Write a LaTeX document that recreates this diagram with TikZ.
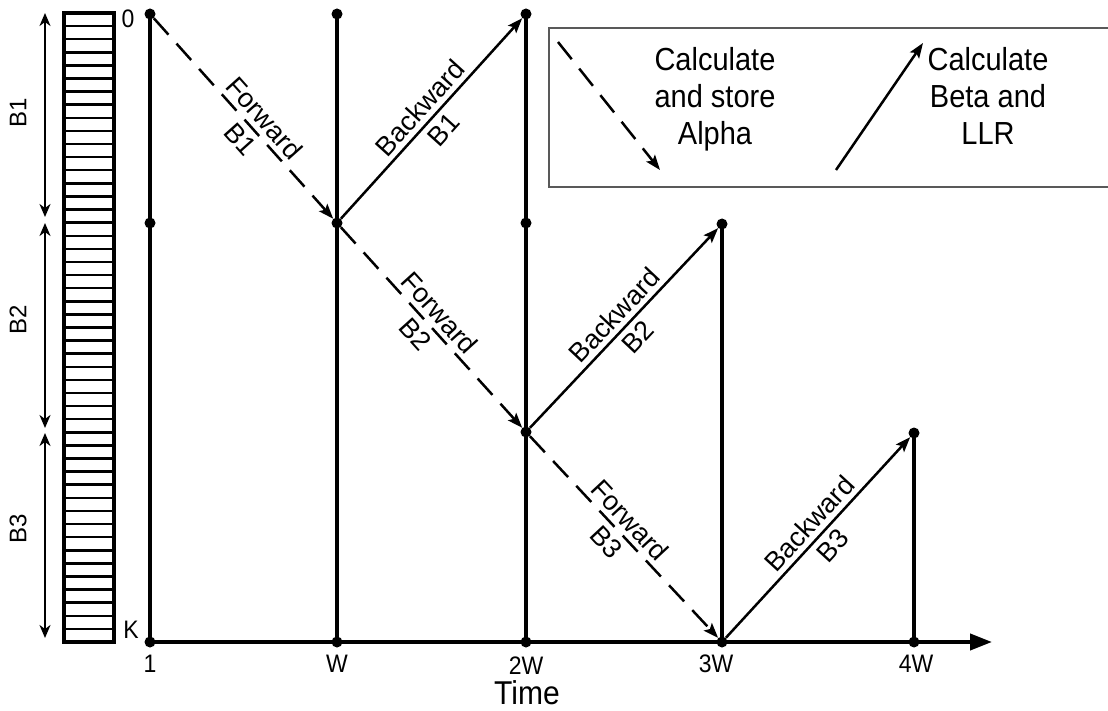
\documentclass[tikz,border=0pt]{standalone}
\usepackage{fontspec}
\usepackage{graphicx}
\setmainfont{Liberation Sans}
\usetikzlibrary{arrows.meta}
\newcommand{\vstretch}[1]{\scalebox{1}[1.1]{#1}}
\tikzset{
  dot/.style={circle,fill=black,inner sep=0pt,minimum size=11pt},
  vline/.style={line width=4pt},
  fwd/.style={line width=2.5pt,dash pattern=on 22pt off 12pt,-{Stealth[length=15pt,width=11pt,inset=3pt]}},
  bwd/.style={line width=2.5pt,-{Stealth[length=15pt,width=11pt,inset=3pt]}},
  steplbl/.style={sloped,align=center,font=\fontsize{27}{32}\selectfont,inner sep=0pt},
  ticklbl/.style={font=\fontsize{23}{27}\selectfont,inner sep=0pt},
  blocklbl/.style={font=\fontsize{24}{28}\selectfont,inner sep=0pt,rotate=90},
  legtext/.style={font=\fontsize{29}{34}\selectfont,inner sep=0pt},
  span/.style={line width=2pt,{Stealth[length=13pt,width=11pt,inset=4pt]}-{Stealth[length=13pt,width=11pt,inset=4pt]}}
}
\begin{document}
\begin{tikzpicture}[x=1pt,y=-1pt]
\useasboundingbox (0,0) rectangle (1108,711);
% memory stack
\foreach \i in {1,...,47}{
  \draw[line width=2.5pt] (64,{13+\i*13.104}) -- (114,{13+\i*13.104});
}
\draw[line width=3.5pt] (64,13) rectangle (114,642);
% block spans
\coordinate (s1a) at (45,13); \coordinate (s1b) at (45,217);
\coordinate (s2a) at (45,223); \coordinate (s2b) at (45,428);
\coordinate (s3a) at (45,433); \coordinate (s3b) at (45,638);
\draw[span] (s1a) -- (s1b);
\draw[span] (s2a) -- (s2b);
\draw[span] (s3a) -- (s3b);
\node[blocklbl] (lb1) at (18,113) {B1};
\node[blocklbl] (lb2) at (18,320) {B2};
\node[blocklbl] (lb3) at (18,529) {B3};
% dots
\node[dot] (p00) at (150,14) {};
\node[dot] (p01) at (150,223) {};
\node[dot] (p02) at (150,642) {};
\node[dot] (p10) at (337,14) {};
\node[dot] (p11) at (337,223) {};
\node[dot] (p12) at (337,642) {};
\node[dot] (p20) at (526,14) {};
\node[dot] (p21) at (526,223) {};
\node[dot] (p22) at (526,432) {};
\node[dot] (p23) at (526,642) {};
\node[dot] (p31) at (722,224) {};
\node[dot] (p33) at (722,642) {};
\node[dot] (p42) at (914,433) {};
\node[dot] (p43) at (914,642) {};
% vertical lines
\draw[vline] (p00.center) -- (p02.center);
\draw[vline] (p10.center) -- (p12.center);
\draw[vline] (p20.center) -- (p23.center);
\draw[vline] (p31.center) -- (p33.center);
\draw[vline] (p42.center) -- (p43.center);
% time axis
\coordinate (axend) at (992,642);
\draw[vline,-{Triangle[length=22pt,width=16pt]}] (p02.center) -- (axend);
% forward / backward
\draw[fwd] (p00) -- node[steplbl,pos=0.55] {Forward\\B1} (p11);
\draw[fwd] (p11) -- node[steplbl,pos=0.48] {Forward\\B2} (p22);
\draw[fwd] (p22) -- node[steplbl,pos=0.47] {Forward\\B3} (p33);
\draw[bwd] (p11) -- node[steplbl,pos=0.5] {Backward\\B1} (p20);
\draw[bwd] (p22) -- node[steplbl,pos=0.51] {Backward\\B2} (p31);
\draw[bwd] (p33) -- node[steplbl,pos=0.515] {Backward\\B3} (p42);
% axis labels
\node[ticklbl] (t0) at (128,19) {\vstretch{0}};
\node[ticklbl] (tk) at (131,630) {\vstretch{K}};
\node[ticklbl] (t1) at (150,664) {\vstretch{1}};
\node[ticklbl] (tw) at (337,664) {\vstretch{W}};
\node[ticklbl] (t2w) at (526,666) {\vstretch{2W}};
\node[ticklbl] (t3w) at (716,664) {\vstretch{3W}};
\node[ticklbl] (t4w) at (916,664) {\vstretch{4W}};
\node[inner sep=0pt,font=\fontsize{30}{36}\selectfont] (time) at (527,693) {\vstretch{Time}};
% legend
\draw[line width=1.5pt,draw=black!65] (549,28) rectangle (1115,187);
\coordinate (la) at (558,42); \coordinate (lb) at (660,170);
\coordinate (lc) at (836,170); \coordinate (ld) at (923,43);
\draw[fwd] (la) -- (lb);
\draw[bwd] (lc) -- (ld);
\node[legtext] (lt1) at (715,100) {\vstretch{\begin{tabular}{@{}c@{}}Calculate\\and store\\Alpha\end{tabular}}};
\node[legtext] (lt2) at (988,100) {\vstretch{\begin{tabular}{@{}c@{}}Calculate\\Beta and\\LLR\end{tabular}}};
\end{tikzpicture}
\end{document}
